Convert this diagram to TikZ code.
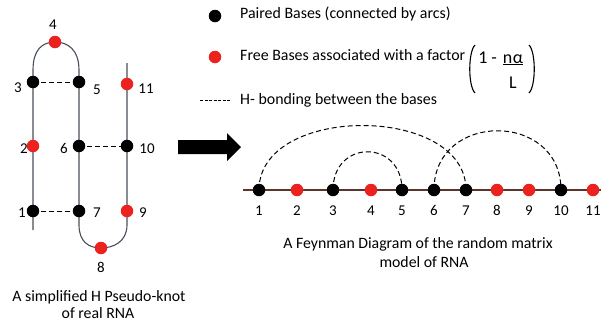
\documentclass[tikz,border=0pt]{standalone}
\usepackage{fontspec}
\setmainfont{Carlito}
\definecolor{strandc}{RGB}{70,78,92}
\definecolor{axisc}{RGB}{92,52,44}
\definecolor{freec}{RGB}{236,34,30}
\begin{document}
\begin{tikzpicture}[x=1pt,y=-1pt,
  paired/.style={circle,fill=black,inner sep=0pt,minimum size=12.5pt},
  free/.style={circle,fill=freec,inner sep=0pt,minimum size=12.5pt},
  dig/.style={font=\fontsize{15}{17}\selectfont,inner sep=0pt,anchor=base},
  leg/.style={font=\fontsize{15.9}{18}\selectfont,inner sep=0pt,anchor=base west},
  captext/.style={font=\fontsize{15.8}{18}\selectfont,inner sep=0pt,anchor=base},
  frm/.style={font=\fontsize{18}{20}\selectfont,inner sep=0pt,anchor=base},
  hbond/.style={dash pattern=on 5pt off 3pt,line width=1pt},
  strand/.style={line width=1.1pt,draw=strandc},
  axis/.style={line width=1.2pt,draw=axisc}]
\useasboundingbox (0,0) rectangle (601,322);
% ---------- left: pseudo-knot ----------
\coordinate (lb) at (33,230);
\coordinate (l3t) at (33,70);
\coordinate (l5t) at (79,70);
\coordinate (l7b) at (79,225);
\coordinate (l9b) at (127,225);
\coordinate (rt) at (127,63);
\coordinate (a1) at (33,211);
\coordinate (a2) at (33,146);
\coordinate (a3) at (33,82);
\coordinate (a4) at (55,42);
\coordinate (a5) at (79,82);
\coordinate (a6) at (79,146);
\coordinate (a7) at (79,211);
\coordinate (a8) at (101,248);
\coordinate (a9) at (127,211);
\coordinate (a10) at (127,146);
\coordinate (a11) at (127,84);
\draw[strand] (lb) -- (l3t) .. controls (33,50) and (42,42) .. (a4)
  .. controls (68,42) and (79,50) .. (l5t) -- (l7b)
  .. controls (79,242) and (89,248) .. (a8)
  .. controls (113,248) and (127,242) .. (l9b) -- (rt);
\draw[hbond] (a3) -- (a5);
\draw[hbond] (a6) -- (a10);
\draw[hbond] (a1) -- (a7);
\node[paired] (p1) at (a1) {};
\node[free] (p2) at (a2) {};
\node[paired] (p3) at (a3) {};
\node[free] (p4) at (a4) {};
\node[paired] (p5) at (a5) {};
\node[paired] (p6) at (a6) {};
\node[paired] (p7) at (a7) {};
\node[free] (p8) at (a8) {};
\node[free] (p9) at (a9) {};
\node[paired] (p10) at (a10) {};
\node[free] (p11) at (a11) {};
\node[dig] (t1) at (22,217) {1};
\node[dig] (t2) at (24,153) {2};
\node[dig] (t3) at (18,92) {3};
\node[dig] (t4) at (53,29) {4};
\node[dig] (t5) at (97,94) {5};
\node[dig] (t6) at (64,153) {6};
\node[dig] (t7) at (97,217) {7};
\node[dig] (t8) at (101,272) {8};
\node[dig] (t9) at (143,217) {9};
\node[dig] (t10) at (147,153) {10};
\node[dig] (t11) at (146,93) {11};
\node[captext] (capL1) at (99,301) {A simplified H Pseudo-knot};
\node[captext] (capL2) at (98,318) {of real RNA};
% ---------- arrow ----------
\fill (178,140) -- (227,140) -- (227,133) -- (241,147) -- (227,161) -- (227,154) -- (178,154) -- cycle;
% ---------- legend ----------
\node[paired] (lg1) at (215,16) {};
\node[leg] (lt1) at (240,18) {Paired Bases (connected by arcs)};
\node[free] (lg2) at (215,57) {};
\node[leg] (lt2) at (240,60) {Free Bases associated with a factor};
\draw[line width=1.1pt] (475,45) .. controls (468,52) and (468,86) .. (475,93);
\draw[line width=1.1pt] (529,45) .. controls (536,52) and (536,86) .. (529,93);
\node[frm] (f1) at (483,63) {1};
\node[frm] (fm) at (494,63) {-};
\node[frm] (fn) at (513,63) {\underline{n\kern0.5pt α}};
\node[frm] (fL) at (513,88) {L};
\coordinate (ld1) at (200,100);
\coordinate (ld2) at (231,100);
\draw[dash pattern=on 3pt off 1.5pt,line width=0.9pt] (ld1) -- (ld2);
\node[leg] (lt3) at (240,104) {H- bonding between the bases};
% ---------- right: Feynman diagram ----------
\coordinate (ax0) at (243,190);
\coordinate (ax1) at (601,190);
\draw[axis] (ax0) -- (ax1);
\foreach \i/\x in {1/259,2/297,3/333,4/371,5/402,6/434,7/466,8/497,9/529,10/561,11/593}{
  \coordinate (c\i) at (\x,190);
}
\draw[hbond] (c1) .. controls +(0,-86) and +(0,-86) .. (c7);
\draw[hbond] (c3) .. controls +(0,-51) and +(0,-51) .. (c5);
\draw[hbond] (c6) .. controls +(0,-79) and +(0,-79) .. (c10);
\foreach \i/\x/\s in {1/259/paired,2/297/free,3/333/paired,4/371/free,5/402/paired,6/434/paired,7/466/paired,8/497/free,9/529/free,10/561/paired,11/593/free}{
  \node[\s] (q\i) at (c\i) {};
  \node[dig] (u\i) at (\x,215) {\i};
}
\node[captext] (capR1) at (418,248) {A Feynman Diagram of the random matrix};
\node[captext] (capR2) at (424,267) {model of RNA};
\end{tikzpicture}
\end{document}
